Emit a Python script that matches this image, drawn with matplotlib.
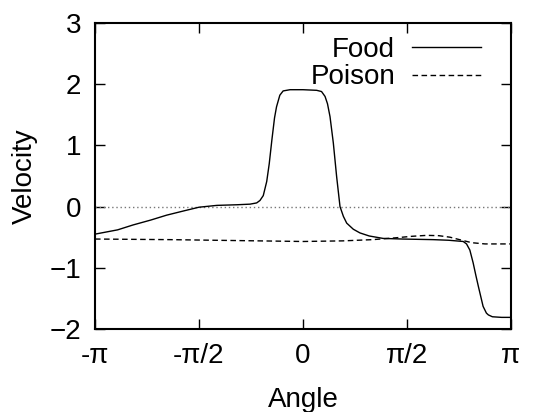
import numpy as np
from matplotlib import pyplot as plt

plt.rcParams['font.family'] = ['Liberation Sans', 'DejaVu Sans']

# values (angle in radians, velocity)
food_angle = [-3.1416, -2.80, -2.567, -2.30, -2.06, -1.80, -1.5708, -1.30, -1.00,
              -0.80, -0.70, -0.65, -0.60, -0.548, -0.51, -0.47, -0.43, -0.40, -0.35,
              -0.30, -0.196, 0.0, 0.207, 0.28, 0.333, 0.37, 0.408, 0.458, 0.508,
              0.559, 0.61, 0.66, 0.76, 0.86, 1.0, 1.21, 1.5, 1.97, 2.20, 2.42,
              2.47, 2.52, 2.57, 2.61, 2.65, 2.72, 2.77, 2.80, 2.86, 3.0, 3.1416]
food_vel = [-0.45, -0.38, -0.30, -0.22, -0.14, -0.07, -0.01, 0.02, 0.03,
            0.04, 0.06, 0.10, 0.18, 0.41, 0.70, 1.09, 1.45, 1.63, 1.82,
            1.89, 1.91, 1.91, 1.90, 1.88, 1.80, 1.68, 1.47, 1.04, 0.49,
            0.0, -0.16, -0.27, -0.37, -0.43, -0.48, -0.52, -0.53, -0.54, -0.55, -0.57,
            -0.61, -0.71, -0.92, -1.12, -1.31, -1.63, -1.74, -1.77, -1.80, -1.81, -1.81]

poison_angle = [-3.1416, -2.0, -1.0, 0.0, 0.6, 1.05, 1.40, 1.65, 1.87, 2.05, 2.22,
                2.40, 2.55, 2.75, 3.0, 3.1416]
poison_vel = [-0.53, -0.54, -0.555, -0.57, -0.56, -0.54, -0.51, -0.485, -0.47, -0.475, -0.50,
              -0.55, -0.59, -0.61, -0.61, -0.61]

xticks = [-np.pi, -np.pi / 2, 0, np.pi / 2, np.pi]
xtick_labels = ['-\u03c0', '-\u03c0/2', '0', '\u03c0/2', '\u03c0']
yticks = [-2, -1, 0, 1, 2, 3]

fig = plt.figure(figsize=(5.59, 4.12), dpi=100)
ax = fig.add_axes([95 / 559, 1 - 329 / 412, 416 / 559, 306 / 412])

ax.axhline(0, color='#777777', lw=1.0, ls=(0, (1, 2)))
ax.plot(food_angle, food_vel, 'k-', lw=1.0, label='Food')
ax.plot(poison_angle, poison_vel, color='k', lw=1.0, ls=(0, (4, 2.5)), label='Poison')

ax.set_xlim(-np.pi, np.pi)
ax.set_ylim(-2, 3)
ax.set_xticks(xticks)
ax.set_xticklabels(xtick_labels)
ax.set_yticks(yticks)
ax.tick_params(direction='in', length=7, width=1.0, top=True, right=True,
               labelsize=20, pad=10)
for s in ax.spines.values():
    s.set_linewidth(1.5)

ax.set_xlabel('Angle', fontsize=20, labelpad=13)
ax.set_ylabel('Velocity', fontsize=20, labelpad=8)

ax.legend(loc='upper right', frameon=False, markerfirst=False, fontsize=20,
          handlelength=2.5, handletextpad=0.6, labelspacing=0.05,
          borderaxespad=0.1, bbox_to_anchor=(0.962, 1.0))

fig.savefig('out.png', dpi=100)
